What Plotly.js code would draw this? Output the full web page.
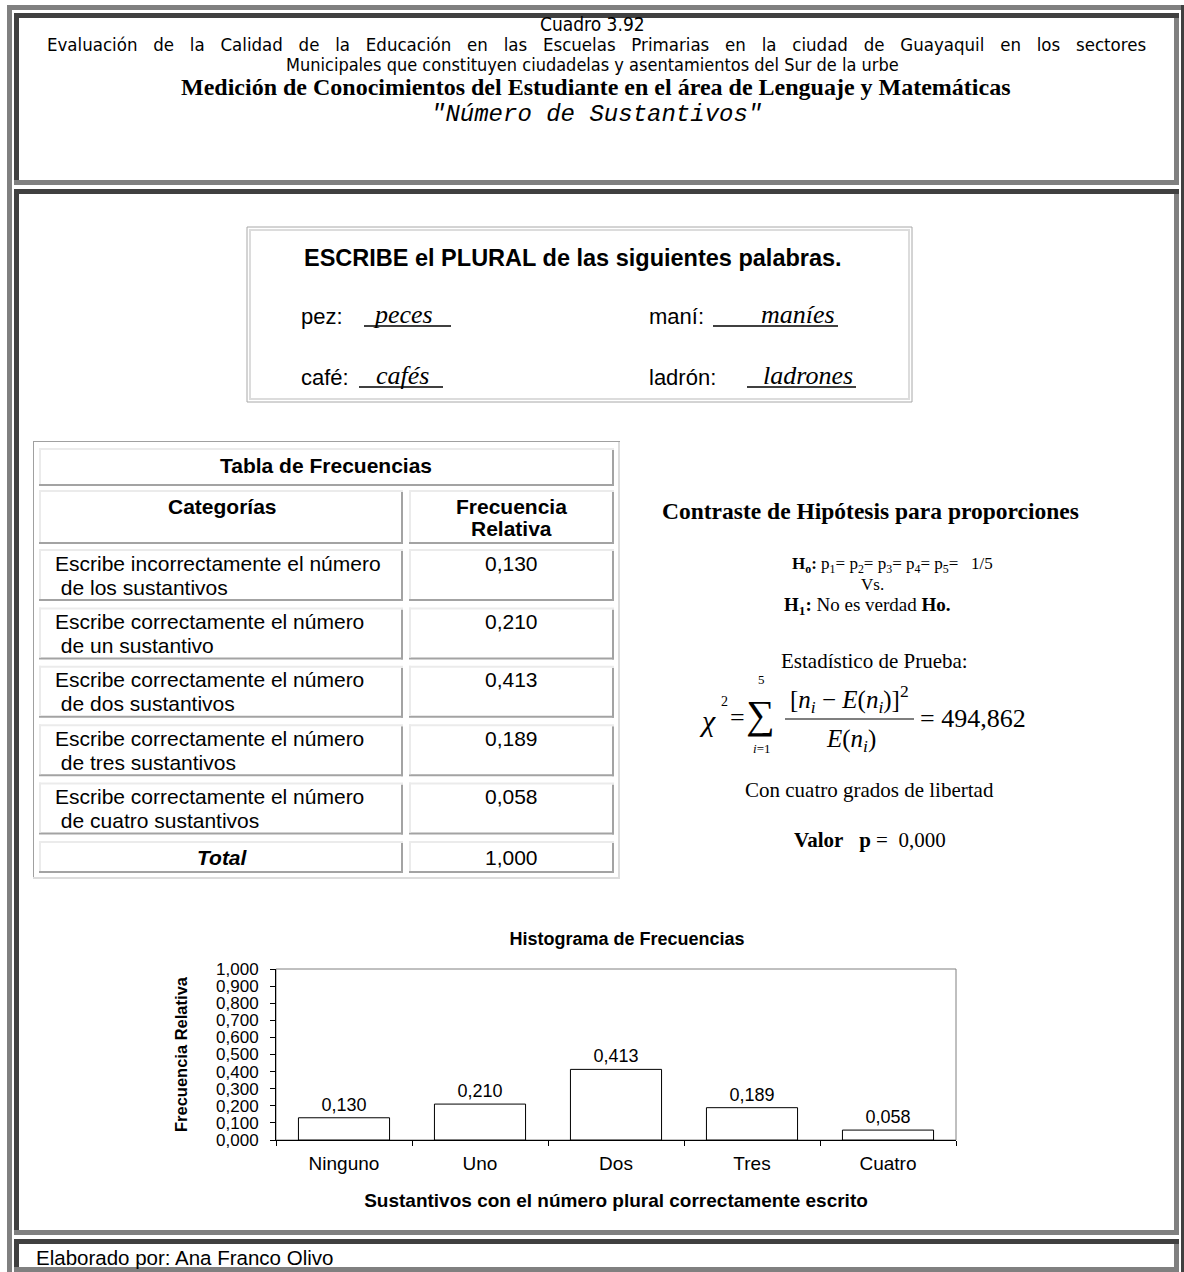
<!DOCTYPE html>
<html><head><meta charset="utf-8">
<script src="https://cdn.plot.ly/plotly-3.0.1.min.js"></script>
<style>html,body{margin:0;padding:0;background:#fff;overflow:hidden}</style>
</head><body>
<div id="chart" style="width:1184px;height:1272px"></div>
<script>
// ---------- DATA ----------
const categories = ['Ninguno', 'Uno', 'Dos', 'Tres', 'Cuatro'];
const relFreq = [0.130, 0.210, 0.413, 0.189, 0.058];
const tableCategories = [
  ['Escribe incorrectamente el número', ' de los sustantivos'],
  ['Escribe correctamente el número', ' de un sustantivo'],
  ['Escribe correctamente el número', ' de dos sustantivos'],
  ['Escribe correctamente el número', ' de tres sustantivos'],
  ['Escribe correctamente el número', ' de cuatro sustantivos']
];
const tableValues = [0.130, 0.210, 0.413, 0.189, 0.058];
const tableTotal = 1.000;
const chiSquare = 494.862;
const pValue = 0.000;
const words = ['pez', 'maní', 'café', 'ladrón'];
const plurals = ['peces', 'maníes', 'cafés', 'ladrones'];

// ---------- HELPERS ----------
const W = 1184, H = 1272;
const px = x => x / W;
const py = y => 1 - y / H;
const SANS = 'Liberation Sans, Arial, sans-serif';
const SERIF = 'Liberation Serif, Times New Roman, serif';
const MONO = 'Liberation Mono, Courier New, monospace';
const HAND = 'DejaVu Sans Condensed, DejaVu Sans, sans-serif';
const fmt = v => v.toFixed(3).replace('.', ',');

const shapes = [];
const annotations = [];

function box(x0, y0, x1, y1, color) {
  shapes.push({type: 'rect', xref: 'paper', yref: 'paper', layer: 'below',
    x0: px(x0), x1: px(x1), y0: py(y1), y1: py(y0),
    fillcolor: color, line: {width: 0}});
}
function hline(x0, x1, y, color, w) {
  shapes.push({type: 'line', xref: 'paper', yref: 'paper',
    x0: px(x0), x1: px(x1), y0: py(y), y1: py(y), line: {color: color, width: w}});
}
function outline(x0, y0, x1, y1, color, w) {
  shapes.push({type: 'rect', xref: 'paper', yref: 'paper', layer: 'below',
    x0: px(x0), x1: px(x1), y0: py(y1), y1: py(y0),
    fillcolor: 'rgba(0,0,0,0)', line: {color: color, width: w}});
}
// bevel: topLeft colour on top/left edges, bottomRight colour on bottom/right edges
function bevel(x0, y0, x1, y1, t, topLeft, bottomRight) {
  box(x0, y1 - t, x1, y1, bottomRight);
  box(x1 - t, y0 + t, x1, y1, bottomRight);
  box(x0, y0, x1, y0 + t, topLeft);
  box(x0, y0, x0 + t, y1 - t, topLeft);
}
function ann(text, x, y, size, family, opts) {
  annotations.push(Object.assign({xref: 'paper', yref: 'paper', x: px(x), y: py(y),
    text: text, showarrow: false, xanchor: 'center', yanchor: 'middle', borderpad: 0,
    font: {size: size, family: family, color: '#000'}}, opts || {}));
}

// ---------- PAGE FRAMES ----------
box(7, 5, 1184, 10, '#808080');
box(7, 5, 12, 1272, '#808080');
box(1181, 5, 1184, 1272, '#404040');
bevel(14, 13, 1179, 185, 5, '#404040', '#808080');
bevel(14, 189, 1179, 1235, 5, '#404040', '#808080');
bevel(14, 1239, 1179, 1272, 5, '#404040', '#808080');

// ---------- HEADER ----------
ann('Cuadro 3.92', 592, 24, 19, 'Liberation Sans Narrow, DejaVu Sans Condensed, Arial Narrow, sans-serif');
ann('<span style="word-spacing:10.5px">Evaluación de la Calidad de la Educación en las Escuelas Primarias en la ciudad de Guayaquil en los sectores</span>', 596, 45, 18.5, HAND);
ann('Municipales que constituyen ciudadelas y asentamientos del Sur de la urbe', 592, 65, 18, HAND);
ann('<b>Medición de Conocimientos del Estudiante en el área de Lenguaje y Matemáticas</b>', 595, 87, 24, SERIF);
ann('<i>"Número de Sustantivos"</i>', 596, 114, 24, MONO);

// ---------- ESCRIBE BOX ----------
outline(247, 227, 912, 402, '#a8a8a8', 1);
outline(250, 230, 909, 399, '#dcdcdc', 2);
ann('<b>ESCRIBE el PLURAL de las siguientes palabras.</b>', 573, 258, 23.5, SANS);
const wordPos = [[300, 316], [648, 316], [300, 377], [648, 377]];
const plurPos = [[403, 364, 451], [798, 713, 838], [402, 359, 443], [808, 747, 856]];
words.forEach((w, i) => {
  ann(w + ':', wordPos[i][0], wordPos[i][1], 22, SANS, {xanchor: 'left'});
  ann('<i>' + plurals[i] + '</i>', plurPos[i][0], wordPos[i][1] - 1, 26, SERIF);
  hline(plurPos[i][1], plurPos[i][2], wordPos[i][1] + 10, '#000', 1.5);
});

// ---------- FREQUENCY TABLE ----------
box(33, 441, 620, 442, '#a0a0a0');
box(33, 441, 34, 879, '#a0a0a0');
box(33, 877, 620, 879, '#dcdcdc');
box(618, 442, 620, 879, '#dcdcdc');
const LIGHT = '#ebebeb', DARK = '#a3a3a3';
const TF = 21;
function cell(x0, y0, x1, y1) { bevel(x0, y0, x1, y1, 2, LIGHT, DARK); }
cell(39, 448, 614, 486);
ann('<b>Tabla de Frecuencias</b>', 326, 465, TF, SANS);
cell(39, 490, 403, 544);
cell(409, 490, 614, 544);
ann('<b>Categorías</b>', 222, 506, TF, SANS);
ann('<b>Frecuencia</b>', 511, 506, TF, SANS);
ann('<b>Relativa</b>', 511, 528, TF, SANS);
tableCategories.forEach((c, i) => {
  const top = 549 + i * 58.4;
  cell(39, top, 403, top + 52);
  cell(409, top, 614, top + 52);
  ann(c[0], 54, top + 14, TF, SANS, {xanchor: 'left'});
  ann(c[1], 54, top + 38, TF, SANS, {xanchor: 'left'});
  ann(fmt(tableValues[i]), 511, top + 14, TF, SANS);
});
cell(39, 841, 403, 873);
cell(409, 841, 614, 873);
ann('<b><i>Total</i></b>', 222, 857, TF, SANS);
ann(fmt(tableTotal), 511, 857, TF, SANS);

// ---------- HYPOTHESIS TEST ----------
ann('<b>Contraste de Hipótesis para proporciones</b>', 870, 511, 23.5, SERIF);
ann('<b>H<sub>o</sub>:</b> p<sub>1</sub>= p<sub>2</sub>= p<sub>3</sub>= p<sub>4</sub>= p<sub>5</sub>=\u00a0\u00a0 1/5', 892, 565, 17, SERIF);
ann('Vs.', 872, 584, 17, SERIF);
ann('<b>H<sub>1</sub>:</b> No es verdad <b>Ho.</b>', 867, 606, 19, SERIF);
ann('Estadístico de Prueba:', 874, 661, 21, SERIF);
ann('<i>χ</i>', 707, 720, 30, SERIF);
ann('2', 725, 701, 14, SERIF);
ann('=', 737, 717, 26, SERIF);
ann('∑', 760, 714, 40, SERIF);
ann('5', 761, 679, 13, SERIF);
ann('<i>i</i>=1', 762, 748, 13, SERIF);
ann('[<i>n<sub>i</sub></i> − <i>E</i>(<i>n<sub>i</sub></i>)]<sup>2</sup>', 849, 699, 25, SERIF);
hline(785, 914, 719, '#000', 1.2);
ann('<i>E</i>(<i>n<sub>i</sub></i>)', 851, 741, 25, SERIF);
ann('= ' + chiSquare.toFixed(3).replace('.', ','), 973, 718, 26, SERIF);
ann('Con cuatro grados de libertad', 869, 790, 21, SERIF);
ann('<b>Valor\u00a0\u00a0 p</b> =\u00a0 ' + fmt(pValue), 870, 840, 21, SERIF);

// ---------- FOOTER ----------
ann('Elaborado por: Ana Franco Olivo', 35, 1257, 20.5, SANS, {xanchor: 'left'});

// ---------- HISTOGRAM ----------
shapes.push({type: 'rect', xref: 'x domain', yref: 'y domain', x0: 0, x1: 1, y0: 0, y1: 1,
  line: {color: '#808080', width: 1}, layer: 'below'});

const trace = {
  type: 'bar', x: categories, y: relFreq,
  marker: {color: '#ffffff', line: {color: '#000000', width: 1}},
  texttemplate: '%{y:.3f}', textposition: 'outside', cliponaxis: false,
  textfont: {family: SANS, size: 18, color: '#000'},
  hoverinfo: 'x+y'
};

const layout = {
  width: W, height: H,
  margin: {l: 0, r: 0, t: 0, b: 0},
  paper_bgcolor: '#ffffff', plot_bgcolor: '#ffffff',
  separators: ',.',
  showlegend: false,
  bargap: 0.33,
  title: {text: '<b>Histograma de Frecuencias</b>', font: {family: SANS, size: 18, color: '#000'},
    xref: 'paper', yref: 'container', x: px(627), y: py(939), xanchor: 'center', yanchor: 'middle'},
  xaxis: {
    domain: [px(276), px(956)], type: 'category', automargin: false,
    showline: true, linecolor: '#000', linewidth: 1, mirror: false,
    ticks: 'outside', tickson: 'boundaries', ticklen: 5, tickcolor: '#000',
    ticklabelstandoff: 6,
    tickfont: {family: SANS, size: 19, color: '#000'}, showgrid: false, zeroline: false,
    title: {text: '<b>Sustantivos con el número plural correctamente escrito</b>',
      font: {family: SANS, size: 19, color: '#000'}, standoff: 20}
  },
  yaxis: {
    domain: [py(1140), py(969)], range: [0, 1], automargin: false,
    dtick: 0.1, tick0: 0, tickformat: '.3f',
    showline: true, linecolor: '#000', linewidth: 1,
    ticks: 'outside', ticklen: 5, tickcolor: '#000', ticklabelstandoff: 8,
    tickfont: {family: SANS, size: 17, color: '#000'}, showgrid: false, zeroline: false,
    title: {text: '<b>Frecuencia Relativa</b>', font: {family: SANS, size: 16.5, color: '#000'}, standoff: 24}
  },
  shapes: shapes,
  annotations: annotations
};

Plotly.newPlot('chart', [trace], layout, {displayModeBar: false, responsive: false});
</script>
</body></html>
